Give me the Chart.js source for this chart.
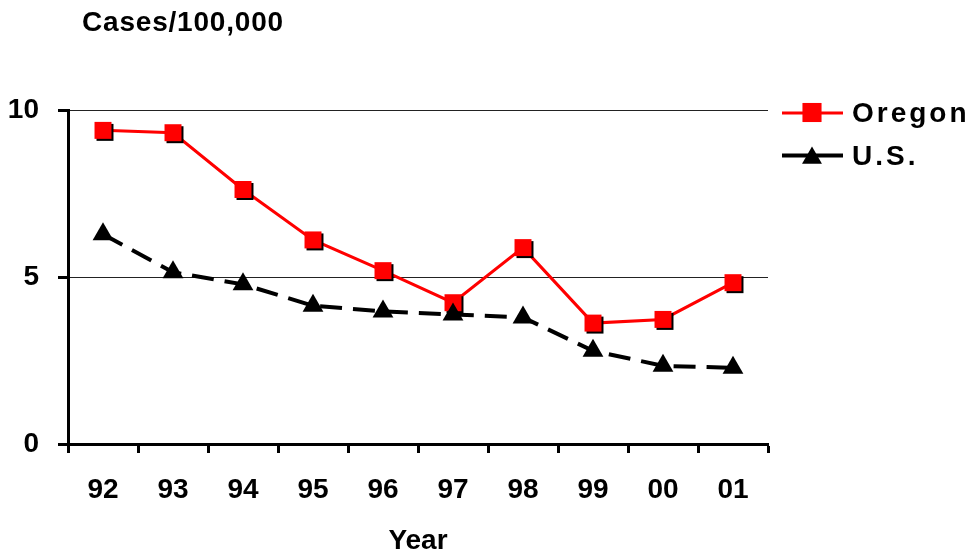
<!DOCTYPE html>
<html>
<head>
<meta charset="utf-8">
<script src="https://cdn.jsdelivr.net/npm/chart.js@4/dist/chart.umd.min.js"></script>
<style>
html,body{margin:0;padding:0;background:#fff;}
#wrap{width:970px;height:552px;position:relative;}
</style>
</head>
<body>
<div id="wrap"><canvas id="c" width="970" height="552"></canvas></div>
<script>
const years = ['92','93','94','95','96','97','98','99','00','01'];
const oregon = [9.39, 9.32, 7.62, 6.11, 5.19, 4.23, 5.88, 3.62, 3.73, 4.83];
const us = [6.28, 5.14, 4.78, 4.14, 3.97, 3.88, 3.79, 2.79, 2.34, 2.28];
const yTickValues = [0, 5, 10];
const yAxisTitle = 'Cases/100,000';
const xAxisTitle = 'Year';
const seriesNames = ['Oregon', 'U.S.'];

const RED = '#ff0000';
const BLACK = '#000000';
const FONT = "'Liberation Sans', Arial, sans-serif";

const shadowPlugin = {
  id: 'shadow',
  beforeDatasetDraw(chart, args) {
    if (chart.data.datasets[args.index].shadow) {
      const ctx = chart.ctx;
      ctx.save();
      ctx.shadowColor = '#000';
      ctx.shadowOffsetX = 2;
      ctx.shadowOffsetY = 2;
      ctx.shadowBlur = 0;
    }
  },
  afterDatasetDraw(chart, args) {
    if (chart.data.datasets[args.index].shadow) chart.ctx.restore();
  }
};

function drawMarker(ctx, style, x, y, r, color) {
  ctx.fillStyle = color;
  ctx.beginPath();
  if (style === 'rect') {
    const s = r * Math.SQRT1_2;
    ctx.rect(x - s, y - s, 2 * s, 2 * s);
  } else {
    let rad = 0;
    for (let i = 0; i < 3; i++) {
      const px = x + Math.sin(rad) * r, py = y - Math.cos(rad) * r;
      if (i === 0) ctx.moveTo(px, py); else ctx.lineTo(px, py);
      rad += 2 * Math.PI / 3;
    }
    ctx.closePath();
  }
  ctx.fill();
}

const extrasPlugin = {
  id: 'extras',
  afterDraw(chart) {
    const ctx = chart.ctx;
    ctx.save();
    ctx.fillStyle = BLACK;
    ctx.letterSpacing = '0.8px';
    ctx.font = "bold 28px " + FONT;
    ctx.textAlign = 'left';
    ctx.textBaseline = 'middle';
    ctx.fillText(yAxisTitle, 82, 23);
    const items = [
      {name: seriesNames[0], color: RED, width: 3, style: 'rect', r: 13.5, y: 113, my: 112.5, ty: 114},
      {name: seriesNames[1], color: BLACK, width: 4, style: 'triangle', r: 11.5, y: 155.5, my: 158, ty: 157}
    ];
    items.forEach(it => {
      ctx.strokeStyle = it.color;
      ctx.lineWidth = it.width;
      ctx.setLineDash([]);
      ctx.beginPath();
      ctx.moveTo(782, it.y);
      ctx.lineTo(843, it.y);
      ctx.stroke();
      drawMarker(ctx, it.style, 812, it.my, it.r, it.color);
      ctx.fillStyle = BLACK;
      ctx.font = "bold 28px " + FONT;
      ctx.letterSpacing = '3px';
      ctx.textAlign = 'left';
      ctx.textBaseline = 'middle';
      ctx.fillText(it.name, 852, it.ty);
    });
    ctx.restore();
  }
};

new Chart(document.getElementById('c'), {
  type: 'line',
  data: {
    labels: years,
    datasets: [
      { label: 'U.S. points', data: us, showLine: false, pointStyle: 'triangle', pointRadius: 12,
        pointHoverRadius: 12, pointBackgroundColor: BLACK, pointBorderColor: BLACK, pointBorderWidth: 0 },
      { label: 'Oregon points', data: oregon, showLine: false, pointStyle: 'rect', pointRadius: 12,
        pointHoverRadius: 12, pointBackgroundColor: RED, pointBorderColor: RED, pointBorderWidth: 0, shadow: true },
      { label: seriesNames[0], data: oregon, borderColor: RED, borderWidth: 3, pointRadius: 0, fill: false, tension: 0 },
      { label: seriesNames[1], data: us, borderColor: BLACK, borderWidth: 4, borderDash: [22, 11], pointRadius: 0, fill: false, tension: 0 }
    ]
  },
  options: {
    responsive: false,
    animation: false,
    events: [],
    layout: { padding: { top: 110, right: 202, left: 0, bottom: 0 } },
    plugins: { legend: { display: false }, tooltip: { enabled: false }, title: { display: false } },
    scales: {
      x: {
        type: 'category',
        offset: true,
        grid: { offset: true, drawOnChartArea: false, drawTicks: true, tickLength: 9, tickWidth: 3, tickColor: BLACK },
        border: { display: true, color: BLACK, width: 3 },
        ticks: { color: BLACK, font: { family: FONT, size: 28, weight: 'bold' }, padding: 20, maxRotation: 0, autoSkip: false },
        title: { display: true, text: xAxisTitle, color: BLACK, font: { family: FONT, size: 28, weight: 'bold' }, padding: { top: 0, bottom: -6 } },
        afterFit(scale) { scale.height = 108; }
      },
      y: {
        min: 0, max: 10,
        afterBuildTicks(scale) { scale.ticks = yTickValues.map(v => ({ value: v })); },
        grid: { color: '#222', lineWidth: 1, tickLength: 10, tickWidth: 3, tickColor: BLACK },
        border: { display: true, color: BLACK, width: 3 },
        ticks: { color: BLACK, font: { family: FONT, size: 28, weight: 'bold' }, padding: 19 },
        afterFit(scale) { scale.width = 68; }
      }
    }
  },
  plugins: [shadowPlugin, extrasPlugin]
});
</script>
</body>
</html>
